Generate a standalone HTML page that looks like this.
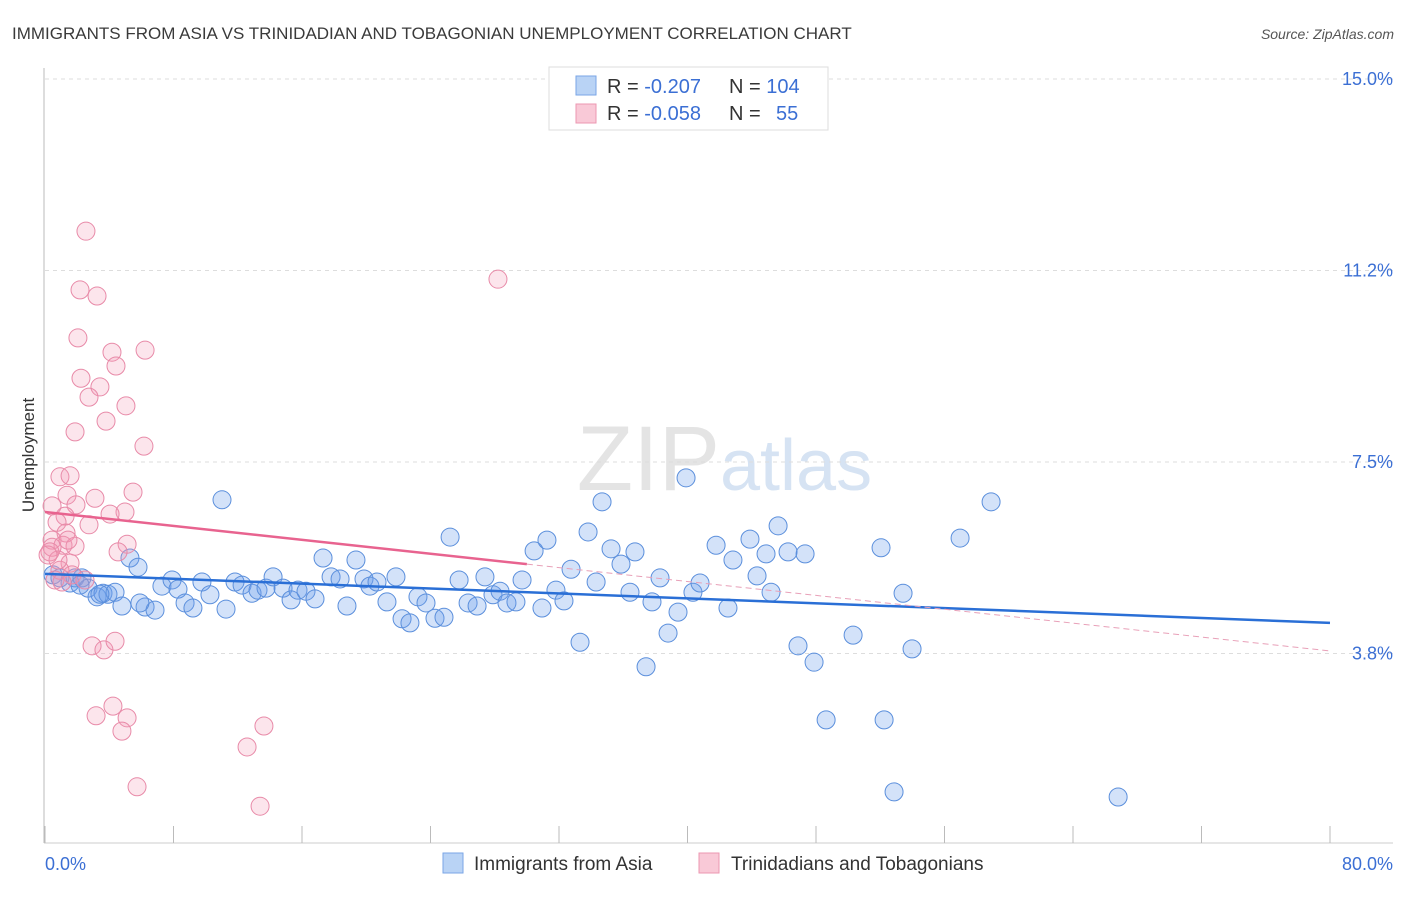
<!DOCTYPE html>
<html><head><meta charset="utf-8"><style>
body{margin:0;background:#fff;font-family:"Liberation Sans",sans-serif}
svg text{font-family:"Liberation Sans",sans-serif}
</style></head><body>
<svg id="chart" width="1406" height="892">
<text x="12" y="39" font-size="17" fill="#3a3a3a">IMMIGRANTS FROM ASIA VS TRINIDADIAN AND TOBAGONIAN UNEMPLOYMENT CORRELATION CHART</text>
<text x="1394" y="39" font-size="14" fill="#555" font-style="italic" text-anchor="end">Source: ZipAtlas.com</text>
<text x="720" y="490" font-size="92" fill="#e4e4e4" text-anchor="end" font-family="Liberation Serif">ZIP</text>
<text x="720" y="490" font-size="72" fill="#d6e3f3">atlas</text>
<g id="grid"></g><g id="axes"></g><g id="pts"></g><g id="trend"></g>
<text transform="translate(34,455) rotate(-90)" font-size="17" fill="#333" text-anchor="middle">Unemployment</text>
<text x="45" y="870" font-size="18" fill="#3b6fd4">0.0%</text>
<text x="1393" y="870" font-size="18" fill="#3b6fd4" text-anchor="end">80.0%</text>
<g>
<rect x="549" y="67" width="279" height="63" fill="#fff" stroke="#ddd"/>
<rect x="576" y="76" width="20" height="19" fill="#b9d3f5" stroke="#7aa6e6"/>
<rect x="576" y="104" width="20" height="19" fill="#f9c9d7" stroke="#ec97b2"/>
<text x="607" y="93" font-size="20" fill="#333">R = <tspan fill="#3b6fd4">-0.207</tspan><tspan x="729">N = </tspan><tspan fill="#3b6fd4">104</tspan></text>
<text x="607" y="120" font-size="20" fill="#333">R = <tspan fill="#3b6fd4">-0.058</tspan><tspan x="729">N = </tspan><tspan x="776" fill="#3b6fd4">55</tspan></text>
</g>
<g>
<rect x="443" y="853" width="20" height="20" fill="#b9d3f5" stroke="#7aa6e6"/>
<text x="474" y="870" font-size="19" fill="#333">Immigrants from Asia</text>
<rect x="699" y="853" width="20" height="20" fill="#f9c9d7" stroke="#ec97b2"/>
<text x="731" y="870" font-size="19" fill="#333">Trinidadians and Tobagonians</text>
</g>
</svg>
<script>
const yTicks=[3.75,7.5,11.25,15];
const yTickLabels=["3.8%","7.5%","11.2%","15.0%"];
const asiaX=[.5,.93,1.56,1.87,2.3,2.68,3.24,3.61,3.92,4.36,4.79,5.29,5.79,6.23,6.85,7.28,7.91,8.28,8.72,9.21,9.77,10.27,11.27,11.83,12.27,12.89,13.26,13.76,14.2,14.82,15.32,15.75,16.25,16.81,17.31,17.81,18.37,18.8,19.36,19.86,20.23,20.67,21.29,21.85,22.23,22.72,23.22,23.72,24.28,24.84,25.22,25.78,26.34,26.9,27.39,27.89,28.33,28.76,29.32,29.7,30.45,30.94,31.25,31.81,32.31,32.75,33.31,33.81,34.31,34.68,35.24,35.86,36.42,36.73,37.42,37.79,38.29,38.79,39.41,39.91,40.34,40.78,41.78,42.52,42.83,43.89,44.33,44.89,45.2,45.64,46.26,46.88,47.32,47.88,48.63,50.31,52.05,52.24,52.86,53.42,53.98,56.97,58.9,66.81,11.02,3.42,5.91,2.18];
const asiaY=[5.29,5.23,5.13,5.23,5.23,5.03,4.86,4.93,4.91,4.95,4.68,5.62,5.44,4.66,4.6,5.07,5.19,5.01,4.74,4.64,5.15,4.9,4.62,5.15,5.09,4.93,4.99,5.03,5.25,5.03,4.8,4.99,4.97,4.82,5.62,5.25,5.21,4.68,5.58,5.21,5.07,5.15,4.76,5.25,4.43,4.35,4.86,4.74,4.44,4.46,6.03,5.19,4.74,4.68,5.25,4.9,4.97,4.74,4.76,5.19,5.76,4.64,5.97,4.99,4.78,5.4,3.97,6.13,5.15,6.72,5.8,5.5,4.95,5.74,3.49,4.76,5.23,4.15,4.56,7.19,4.95,5.13,5.87,4.64,5.58,5.99,5.27,5.7,4.95,6.25,5.74,3.9,5.7,3.58,2.45,4.11,5.82,2.45,1.04,4.93,3.84,6.01,6.72,.94,6.76,4.91,4.74,5.09];
const trinX=[2.55,2.18,3.24,2.05,4.17,6.23,4.42,2.24,3.42,2.74,5.04,3.8,1.87,6.16,.93,1.56,5.48,1.37,3.11,1.93,4.98,4.05,1.25,2.74,.75,1.31,.44,1.12,1.87,.44,5.11,4.55,.31,1.56,.93,1.68,.62,1.06,2.93,3.67,4.36,3.18,4.23,5.11,4.79,13.63,12.58,5.73,13.39,28.2,.44,.81,2.49,1.43,.19];
const trinY=[12.02,10.87,10.75,9.93,9.65,9.69,9.38,9.14,8.97,8.77,8.6,8.3,8.09,7.81,7.21,7.23,6.91,6.85,6.79,6.66,6.52,6.48,6.44,6.27,6.32,6.11,5.97,5.87,5.85,5.83,5.89,5.74,5.74,5.52,5.38,5.29,5.19,5.15,3.9,3.82,3.99,2.53,2.72,2.49,2.23,2.33,1.92,1.14,.76,11.08,6.64,5.58,5.19,5.97,5.68];
const asiaTrend=[5.31,4.35];
const trinTrend=[6.52,3.8];
const trinSolidEnd=30;
const NS="http://www.w3.org/2000/svg";
const X=v=>45+v/80*1285;
const Y=v=>845-v/15*766;
function mk(tag,attrs,parent){const e=document.createElementNS(NS,tag);for(const k in attrs)e.setAttribute(k,attrs[k]);document.getElementById(parent).appendChild(e);return e;}
yTicks.forEach((t,i)=>{
 const l=mk('line',{x1:45,x2:1393,y1:Y(t),y2:Y(t),stroke:'#ddd','stroke-dasharray':'4,4'},'grid');
 
 
 const tx=mk('text',{x:1393,y:Y(t)+6,'font-size':18,fill:'#3b6fd4','text-anchor':'end'},'grid');
 tx.textContent=yTickLabels[i];
 
 
});
const ax=mk('line',{x1:44,x2:44,y1:68,y2:843,stroke:'#bbb'},'axes');


const bx=mk('line',{x1:44,x2:1393,y1:843,y2:843,stroke:'#ccc'},'axes');


for(let i=0;i<=10;i++){
 const t=mk('line',{x1:X(i*8),x2:X(i*8),y1:826,y2:843,stroke:'#bbb'},'axes');
 
 
}
asiaX.forEach((x,i)=>{
 const c=mk('circle',{cx:X(x),cy:Y(asiaY[i]),r:9,fill:'rgba(110,160,235,0.3)',stroke:'#5b8fdc','stroke-width':1},'pts');
 
 
});
trinX.forEach((x,i)=>{
 const c=mk('circle',{cx:X(x),cy:Y(trinY[i]),r:9,fill:'rgba(245,150,180,0.25)',stroke:'#e88aa8','stroke-width':1},'pts');
 
 
});
const bl=mk('line',{x1:X(0),y1:Y(asiaTrend[0]),x2:X(80),y2:Y(asiaTrend[1]),stroke:'#2a6fd6','stroke-width':2.5},'trend');


const pe=trinTrend[0]+(trinTrend[1]-trinTrend[0])*trinSolidEnd/80;
const pl=mk('line',{x1:X(0),y1:Y(trinTrend[0]),x2:X(trinSolidEnd),y2:Y(pe),stroke:'#e8638f','stroke-width':2.5},'trend');


const pd=mk('line',{x1:X(trinSolidEnd),y1:Y(pe),x2:X(80),y2:Y(trinTrend[1]),stroke:'#e8a0b8','stroke-width':1,'stroke-dasharray':'6,4'},'trend');


</script>
</body></html>
